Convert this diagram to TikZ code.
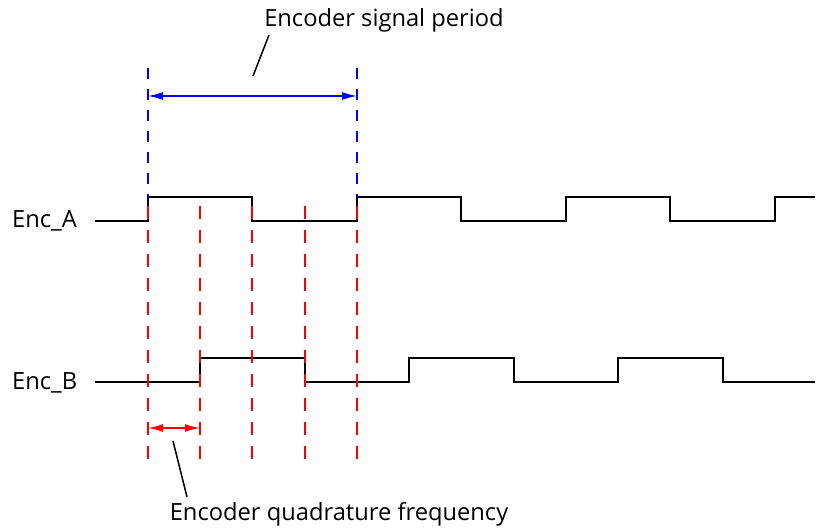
\documentclass[tikz,border=0pt]{standalone}
\usepackage{fontspec}
\setmainfont{Open Sans}
\usetikzlibrary{arrows.meta}
\begin{document}
\begin{tikzpicture}[x=1pt,y=-1pt,
  wave/.style={line width=1.6pt, line join=miter},
  bluedash/.style={blue, line width=1.6pt, dash pattern=on 11pt off 10pt},
  reddash/.style={red, line width=1.6pt, dash pattern=on 13pt off 11pt},
  lbl/.style={font=\fontsize{23.7}{28}\selectfont, inner sep=0pt},
  leader/.style={line width=1.5pt},
  dimarrow/.style={line width=1.6pt, {Latex[length=15pt,width=8pt]}-{Latex[length=15pt,width=8pt]}}
]
\useasboundingbox (0,0) rectangle (817,529);

% labels
\node[lbl, anchor=base west] (encA) at (12,228) {Enc\_A};
\node[lbl, anchor=base west] (encB) at (12,390) {Enc\_B};
\node[lbl, anchor=base] (period) at (384,27) {Encoder signal period};
\node[lbl, anchor=base] (quad) at (339,520) {Encoder quadrature frequency};

% waveforms
\coordinate (a0) at (95,221);
\coordinate (a1) at (815,197);
\draw[wave] (a0) -- (148,221) -- (148,197) -- (252,197) -- (252,221) -- (357,221) -- (357,197)
  -- (461,197) -- (461,221) -- (566,221) -- (566,197) -- (670,197) -- (670,221)
  -- (775,221) -- (775,197) -- (a1);
\coordinate (b0) at (95,382);
\coordinate (b1) at (815,382);
\draw[wave] (b0) -- (200,382) -- (200,358) -- (305,358) -- (305,382) -- (409,382) -- (409,358)
  -- (514,358) -- (514,382) -- (618,382) -- (618,358) -- (723,358) -- (723,382) -- (b1);

% blue dashed markers
\coordinate (bt1) at (148,68);  \coordinate (bb1) at (148,197);
\coordinate (bt2) at (357,68);  \coordinate (bb2) at (357,197);
\draw[bluedash] (bt1) -- (bb1);
\draw[bluedash] (bt2) -- (bb2);

% red dashed markers
\foreach \x [count=\i] in {148,200,252,305,357} {
  \coordinate (rt\i) at (\x,206);
  \coordinate (rb\i) at (\x,460);
  \draw[reddash] (rt\i) -- (rb\i);
}

% dimension arrows
\coordinate (pa) at (148,96); \coordinate (pb) at (357,96);
\draw[dimarrow, blue] (pa) -- (pb);
\coordinate (qa) at (148,428); \coordinate (qb) at (200,428);
\draw[dimarrow, red] (qa) -- (qb);

% leaders
\coordinate (l1a) at (269,35); \coordinate (l1b) at (253,76);
\draw[leader] (l1a) -- (l1b);
\coordinate (l2a) at (173,441); \coordinate (l2b) at (187,497);
\draw[leader] (l2a) -- (l2b);
\end{tikzpicture}
\end{document}
